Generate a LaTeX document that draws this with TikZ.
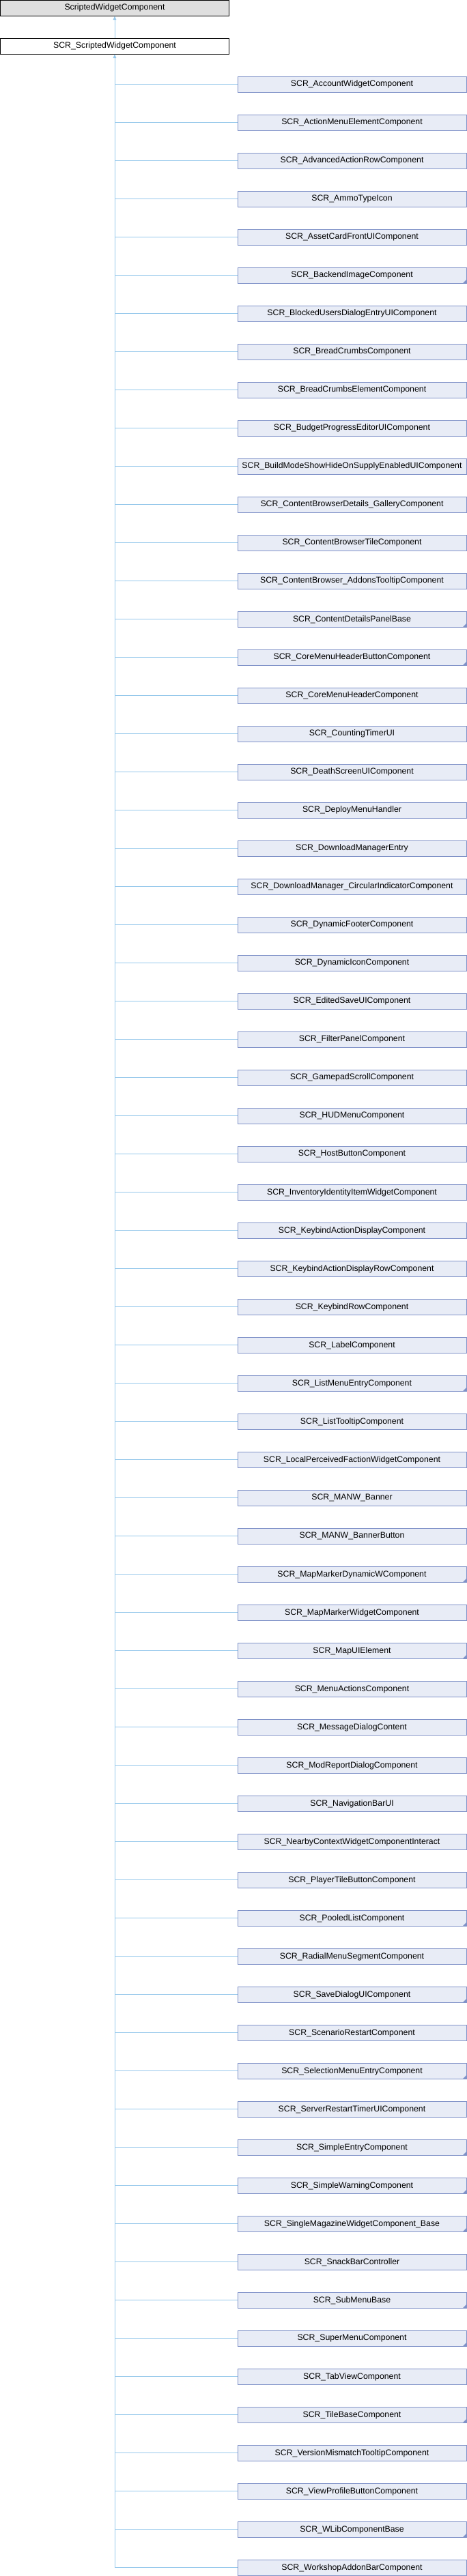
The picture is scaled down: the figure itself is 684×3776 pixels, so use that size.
\documentclass[tikz,border=0pt]{standalone}
\usepackage{fontspec}
\setmainfont{Liberation Sans}
\usetikzlibrary{arrows.meta}
\definecolor{connblue}{RGB}{150,200,235}
\definecolor{boxborder}{RGB}{128,146,200}
\definecolor{boxfill}{RGB}{232,236,246}
\definecolor{topfill}{RGB}{223,223,223}
\begin{document}
\begin{tikzpicture}[x=1pt,y=-1pt,
  base/.style={rectangle,inner sep=0pt,minimum width=335pt,minimum height=22.5pt,line width=1pt,font=\fontsize{12.3}{14}\selectfont},
  topbox/.style={base,draw=black,fill=topfill},
  midbox/.style={base,draw=black,fill=white},
  childbox/.style={base,draw=boxborder,fill=boxfill},
  conn/.style={draw=connblue,line width=1pt},
  inh/.style={conn,-{Triangle[width=4.5pt,length=5.5pt]}},
  more/.style={fill=boxborder}]
\useasboundingbox (0,0) rectangle (684,3776);
\node[topbox] (top) at (168,11.8) {ScriptedWidgetComponent};
\node[midbox] (mid) at (168,67.8) {SCR\_ScriptedWidgetComponent};
\draw[inh] (mid.north) -- (top.south);
\foreach \name [count=\i] in {
SCR\_AccountWidgetComponent,
SCR\_ActionMenuElementComponent,
SCR\_AdvancedActionRowComponent,
SCR\_AmmoTypeIcon,
SCR\_AssetCardFrontUIComponent,
SCR\_BackendImageComponent,
SCR\_BlockedUsersDialogEntryUIComponent,
SCR\_BreadCrumbsComponent,
SCR\_BreadCrumbsElementComponent,
SCR\_BudgetProgressEditorUIComponent,
SCR\_BuildModeShowHideOnSupplyEnabledUIComponent,
SCR\_ContentBrowserDetails\_GalleryComponent,
SCR\_ContentBrowserTileComponent,
SCR\_ContentBrowser\_AddonsTooltipComponent,
SCR\_ContentDetailsPanelBase,
SCR\_CoreMenuHeaderButtonComponent,
SCR\_CoreMenuHeaderComponent,
SCR\_CountingTimerUI,
SCR\_DeathScreenUIComponent,
SCR\_DeployMenuHandler,
SCR\_DownloadManagerEntry,
SCR\_DownloadManager\_CircularIndicatorComponent,
SCR\_DynamicFooterComponent,
SCR\_DynamicIconComponent,
SCR\_EditedSaveUIComponent,
SCR\_FilterPanelComponent,
SCR\_GamepadScrollComponent,
SCR\_HUDMenuComponent,
SCR\_HostButtonComponent,
SCR\_InventoryIdentityItemWidgetComponent,
SCR\_KeybindActionDisplayComponent,
SCR\_KeybindActionDisplayRowComponent,
SCR\_KeybindRowComponent,
SCR\_LabelComponent,
SCR\_ListMenuEntryComponent,
SCR\_ListTooltipComponent,
SCR\_LocalPerceivedFactionWidgetComponent,
SCR\_MANW\_Banner,
SCR\_MANW\_BannerButton,
SCR\_MapMarkerDynamicWComponent,
SCR\_MapMarkerWidgetComponent,
SCR\_MapUIElement,
SCR\_MenuActionsComponent,
SCR\_MessageDialogContent,
SCR\_ModReportDialogComponent,
SCR\_NavigationBarUI,
SCR\_NearbyContextWidgetComponentInteract,
SCR\_PlayerTileButtonComponent,
SCR\_PooledListComponent,
SCR\_RadialMenuSegmentComponent,
SCR\_SaveDialogUIComponent,
SCR\_ScenarioRestartComponent,
SCR\_SelectionMenuEntryComponent,
SCR\_ServerRestartTimerUIComponent,
SCR\_SimpleEntryComponent,
SCR\_SimpleWarningComponent,
SCR\_SingleMagazineWidgetComponent\_Base,
SCR\_SnackBarController,
SCR\_SubMenuBase,
SCR\_SuperMenuComponent,
SCR\_TabViewComponent,
SCR\_TileBaseComponent,
SCR\_VersionMismatchTooltipComponent,
SCR\_ViewProfileButtonComponent,
SCR\_WLibComponentBase,
SCR\_WorkshopAddonBarComponent} {
  \node[childbox] (c\i) at (515.5,{123.8+56*(\i-1)}) {\name};
  \draw[conn] (c\i.west) -- (c\i.west -| mid.south);
}
\coordinate (trunkend) at (c66.west -| mid.south);
\draw[inh] (trunkend) -- (mid.south);
\foreach \i in {6,15,16,35,40,42,49,51,53,55,56,57,59,60,62,65} {
  \fill[more] (c\i.south east) ++(-6,0) -- (c\i.south east) -- ++(0,-6) -- cycle;
}
\end{tikzpicture}
\end{document}
